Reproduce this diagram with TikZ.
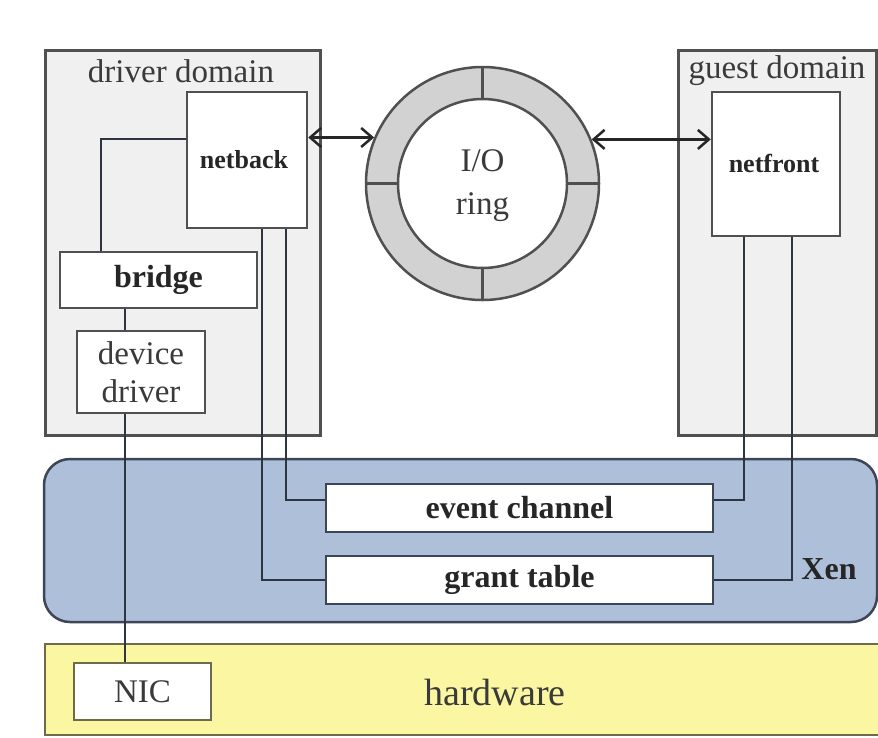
\documentclass[tikz,border=0pt]{standalone}
\usepackage{fontspec}
\setmainfont{Liberation Serif}
\usetikzlibrary{arrows.meta,calc}
\definecolor{edgegray}{HTML}{505050}
\definecolor{domfill}{HTML}{F0F0F0}
\definecolor{ringfill}{HTML}{D2D2D2}
\definecolor{xenfill}{HTML}{AEBFD9}
\definecolor{xenedge}{HTML}{3C4656}
\definecolor{hwfill}{HTML}{FAF6A2}
\definecolor{hwedge}{HTML}{6E6C48}
\definecolor{txtgray}{HTML}{3A3A3A}
\definecolor{wire}{HTML}{2E3440}
\begin{document}
\begin{tikzpicture}[x=1pt,y=-1pt,
  domainbox/.style={draw=edgegray,line width=3pt,fill=domfill},
  innerbox/.style={draw=edgegray,line width=2.5pt,fill=white,inner sep=0pt,align=center,text=txtgray},
  xenbox/.style={draw=xenedge,line width=2.5pt,fill=white,inner sep=0pt,text=black!85},
  wireline/.style={draw=wire,line width=2pt},
  biarrow/.style={draw=black!85,line width=2.5pt,{Straight Barb[length=11pt,width=19pt]}-{Straight Barb[length=11pt,width=19pt]}},
  regtxt/.style={font=\fontsize{33}{40}\selectfont,text=txtgray},
  boldtxt/.style={font=\fontsize{26}{30}\selectfont\bfseries,text=black!85}
]
\useasboundingbox (0,0) rectangle (878,737);
\fill[white] (0,0) rectangle (878,737);

% domains
\draw[domainbox] (45,50) rectangle (320,435);
\node[regtxt] (ddtitle) at (181,71) {driver domain};
\draw[domainbox] (678,50) rectangle (876,435);
\node[regtxt] (gdtitle) at (777,71) {guest domain};

% Xen layer
\draw[draw=xenedge,line width=2.5pt,fill=xenfill,rounded corners=26pt] (44,459) rectangle (877,622);
\node[font=\fontsize{32}{36}\selectfont\bfseries,text=black!85] (xen) at (829,569) {Xen};

% hardware layer
\draw[draw=hwedge,line width=2.5pt,fill=hwfill] (45,644) rectangle (882,735);
\node[font=\fontsize{38}{44}\selectfont,text=txtgray] (hw) at (495,692) {hardware};

% boxes
\node[innerbox,minimum width=120pt,minimum height=136pt] (netback) at (247,160) {};
\node[boldtxt] (nbtxt) at (244,160) {netback};
\node[innerbox,minimum width=128pt,minimum height=144pt] (netfront) at (776,164) {};
\node[boldtxt] (nftxt) at (774,163) {netfront};
\node[innerbox,minimum width=197pt,minimum height=56pt,font=\fontsize{32}{36}\selectfont\bfseries,text=black!85] (bridge) at (158.5,280) {bridge};
\node[innerbox,minimum width=128pt,minimum height=82pt,font=\fontsize{33}{38}\selectfont] (devdrv) at (141,372) {device\\driver};
\node[xenbox,minimum width=387pt,minimum height=48pt,font=\fontsize{32}{36}\selectfont\bfseries] (evt) at (519.5,508) {event channel};
\node[xenbox,minimum width=387pt,minimum height=48pt,font=\fontsize{32}{36}\selectfont\bfseries] (grant) at (519.5,580) {grant table};
\node[draw=hwedge,line width=2.5pt,fill=white,inner sep=0pt,minimum width=137pt,minimum height=57pt,font=\fontsize{33}{38}\selectfont,text=txtgray] (nic) at (142.5,691.5) {NIC};

% I/O ring
\node[circle,draw=edgegray,line width=2.5pt,fill=ringfill,minimum size=233pt,inner sep=0pt] (ring) at (482.5,183.5) {};
\node[circle,draw=edgegray,line width=2.5pt,fill=white,minimum size=169pt,inner sep=0pt] (ringin) at (482.5,183.5) {};
\draw[draw=edgegray,line width=2.5pt] (ringin.north) -- (ring.north);
\draw[draw=edgegray,line width=2.5pt] (ringin.south) -- (ring.south);
\draw[draw=edgegray,line width=2.5pt] (ringin.east) -- (ring.east);
\draw[draw=edgegray,line width=2.5pt] (ringin.west) -- (ring.west);
\node[regtxt,align=center,font=\fontsize{33}{43}\selectfont] (ringlbl) at (482.5,186) {I/O\\ring};

% arrows
\draw[biarrow] (netback.east |- ring.157.5) -- (ring.157.5);
\draw[biarrow] (ring.22.5) -- (netfront.west |- ring.22.5);

% wires
\draw[wireline] ([yshift=21pt]netback.west) -| ([xshift=-57.5pt]bridge.north);
\draw[wireline] ([xshift=-33.5pt]bridge.south) -- ([xshift=-16pt]devdrv.north);
\draw[wireline] ([xshift=-16pt]devdrv.south) -- ([xshift=-16pt]devdrv.south |- nic.north);
\draw[wireline] ([xshift=39pt]netback.south) |- ([yshift=8pt]evt.west);
\draw[wireline] ([xshift=15pt]netback.south) |- (grant.west);
\draw[wireline] ([yshift=8pt]evt.east) -| ([xshift=-32pt]netfront.south);
\draw[wireline] (grant.east) -| ([xshift=16pt]netfront.south);
\end{tikzpicture}
\end{document}
